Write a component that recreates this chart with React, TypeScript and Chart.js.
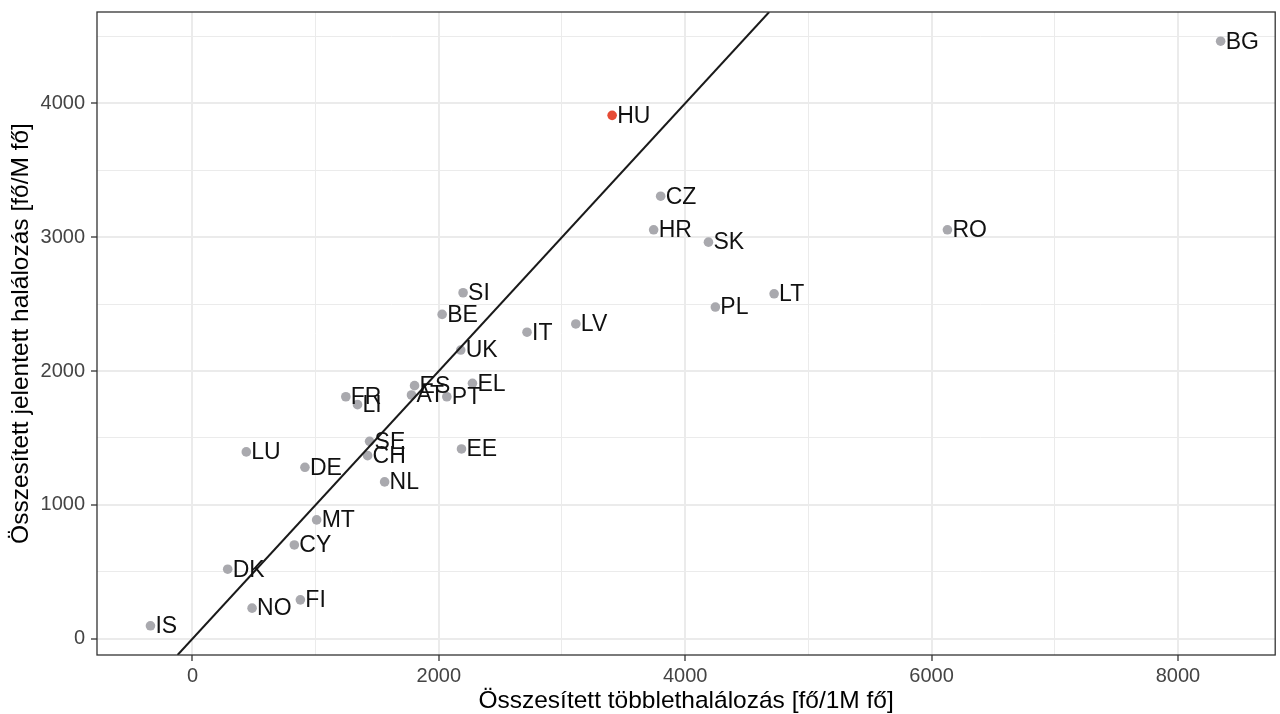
import React, { useEffect, useRef } from "react";
import { Chart, registerables } from "chart.js";

Chart.register(...registerables);

const countries = ["BG","HU","CZ","HR","SK","RO","LT","PL","LV","IT","SI","BE","UK","EL","ES","AT","PT","FR","LI","SE","CH","EE","LU","DE","NL","MT","CY","DK","NO","FI","IS"];
const excessDeaths = [8347, 3407, 3801, 3744, 4189, 6129, 4722, 4245, 3112, 2716, 2197, 2027, 2178, 2273, 1803, 1778, 2065, 1245, 1340, 1438, 1422, 2184, 437, 913, 1560, 1008, 827, 286, 484, 876, -341];
const reportedDeaths = [4464, 3910, 3306, 3055, 2963, 3055, 2577, 2478, 2352, 2290, 2585, 2423, 2157, 1908, 1891, 1821, 1808, 1808, 1749, 1475, 1368, 1418, 1396, 1281, 1172, 888, 701, 520, 229, 291, 97];
const highlighted = ["HU"];

const xMajorTicks = [0, 2000, 4000, 6000, 8000];
const xMinorTicks = [1000, 3000, 5000, 7000];
const yMajorTicks = [0, 1000, 2000, 3000, 4000];
const yMinorTicks = [500, 1500, 2500, 3500, 4500];
const xRange = [-775, 8790];
const yRange = [-121, 4682];

const xTitle = "Összesített többlethalálozás [fő/1M fő]";
const yTitle = "Összesített jelentett halálozás [fő/M fő]";

const FONT = "'Liberation Sans', Arial, Helvetica, sans-serif";
const POINT_GREY = "#A9A9AE";
const POINT_RED = "#E64B35";

export default function App() {
  const ref = useRef<HTMLCanvasElement | null>(null);

  useEffect(() => {
    const canvas = ref.current;
    if (!canvas) return;

    const borderPlugin = {
      id: "panelBorder",
      afterDraw(chart: any) {
        const { ctx, chartArea } = chart;
        ctx.save();
        ctx.strokeStyle = "#333333";
        ctx.lineWidth = 1.3;
        ctx.strokeRect(chartArea.left, chartArea.top, chartArea.right - chartArea.left, chartArea.bottom - chartArea.top);
        ctx.restore();
      },
    };

    const labelPlugin = {
      id: "pointLabels",
      afterDatasetsDraw(chart: any) {
        const meta = chart.getDatasetMeta(1);
        const { ctx } = chart;
        ctx.save();
        ctx.font = `23px ${FONT}`;
        ctx.fillStyle = "#111111";
        ctx.textAlign = "left";
        ctx.textBaseline = "middle";
        meta.data.forEach((el: any, i: number) => {
          ctx.fillText(countries[i], el.x + 5, el.y + 1);
        });
        ctx.restore();
      },
    };

    const mkTicks = (majors: number[], minors: number[]) => (scale: any) => {
      const all = [...majors, ...minors].sort((a, b) => a - b);
      scale.ticks = all.map((v) => ({ value: v }));
    };

    const gridOpts = (majors: number[]) => ({
      color: "#EBEBEB",
      lineWidth: (c: any) => (c.tick && majors.includes(c.tick.value) ? 2 : 1),
      tickColor: (c: any) => (c.tick && majors.includes(c.tick.value) ? "#333333" : "rgba(0,0,0,0)"),
      tickWidth: 1.3,
      tickLength: 6,
      drawTicks: true,
    });

    const chart = new Chart(canvas, {
      type: "scatter",
      data: {
        datasets: [
          {
            type: "line",
            data: [
              { x: yRange[0], y: yRange[0] },
              { x: yRange[1], y: yRange[1] },
            ],
            borderColor: "#1A1A1A",
            borderWidth: 2,
            pointRadius: 0,
            order: 0,
          } as any,
          {
            type: "scatter",
            data: excessDeaths.map((x, i) => ({ x, y: reportedDeaths[i] })),
            pointRadius: 4.8,
            pointHoverRadius: 4.8,
            pointBorderWidth: 0,
            pointBackgroundColor: countries.map((c) => (highlighted.includes(c) ? POINT_RED : POINT_GREY)),
            pointBorderColor: "rgba(0,0,0,0)",
            order: 1,
          },
        ],
      },
      options: {
        animation: false,
        responsive: false,
        devicePixelRatio: 1,
        layout: { padding: { top: 12, right: 2, left: 0, bottom: 0 } },
        plugins: {
          legend: { display: false },
          tooltip: { enabled: false },
        },
        scales: {
          x: {
            type: "linear",
            min: xRange[0],
            max: xRange[1],
            afterBuildTicks: mkTicks(xMajorTicks, xMinorTicks),
            afterFit: (s: any) => { s.height = 59; s.paddingLeft = 0; s.paddingRight = 0; },
            grid: gridOpts(xMajorTicks) as any,
            border: { display: false },
            ticks: {
              autoSkip: false,
              maxRotation: 0,
              padding: 3,
              color: "#444444",
              font: { family: FONT, size: 20 },
              callback: (v: any) => (xMajorTicks.includes(Number(v)) ? String(v) : ""),
            },
            title: {
              display: true,
              text: xTitle,
              color: "#000000",
              font: { family: FONT, size: 24.5 },
              padding: { top: 0, bottom: -2 },
            },
          },
          y: {
            type: "linear",
            min: yRange[0],
            max: yRange[1],
            afterBuildTicks: mkTicks(yMajorTicks, yMinorTicks),
            afterFit: (s: any) => { s.width = 97; s.paddingTop = 0; s.paddingBottom = 0; },
            grid: gridOpts(yMajorTicks) as any,
            border: { display: false },
            ticks: {
              autoSkip: false,
              padding: 6,
              color: "#444444",
              font: { family: FONT, size: 20 },
              callback: (v: any) => (yMajorTicks.includes(Number(v)) ? String(v) : ""),
            },
            title: {
              display: true,
              text: yTitle,
              color: "#000000",
              font: { family: FONT, size: 24.5 },
              padding: { top: 7, bottom: 0 },
            },
          },
        },
      },
      plugins: [borderPlugin, labelPlugin],
    } as any);

    return () => chart.destroy();
  }, []);

  return (
    <div style={{ position: "absolute", left: 0, top: 0, width: 1280, height: 714, background: "#ffffff" }}>
      <canvas ref={ref} width={1280} height={714} style={{ display: "block" }} />
    </div>
  );
}
